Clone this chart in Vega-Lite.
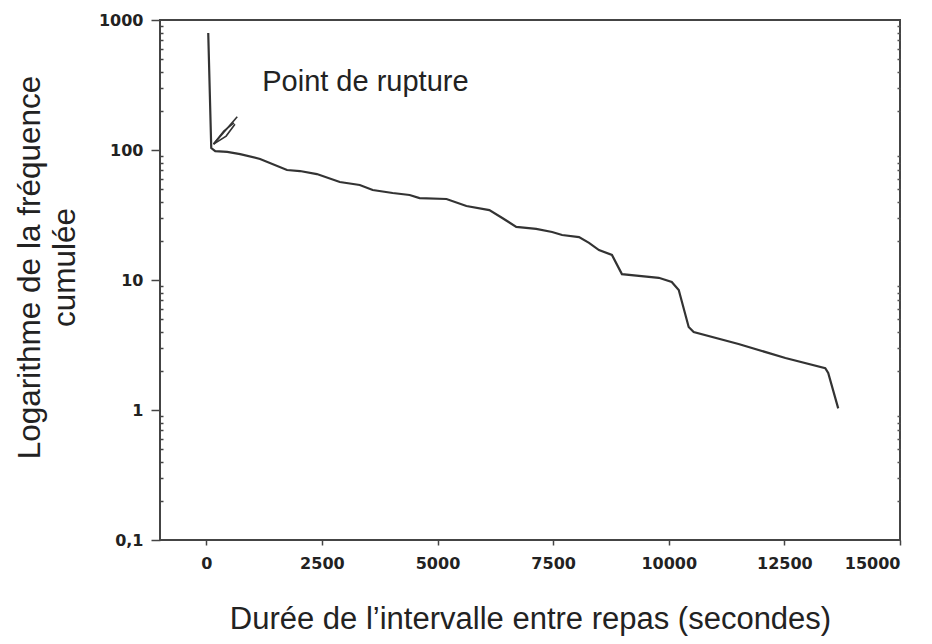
{
  "$schema": "https://vega.github.io/schema/vega-lite/v6.json",
  "width": 740,
  "height": 520,
  "autosize": {"type": "none"},
  "padding": {"left": 160, "top": 20, "right": 32, "bottom": 104},
  "background": "white",
  "config": {
    "view": {"stroke": "#444", "strokeWidth": 2},
    "font": "Liberation Sans"
  },
  "resolve": {"axis": {"y": "independent"}},
  "layer": [
    {
      "data": {
        "values": [
          {"duree": 43, "freq": 794},
          {"duree": 108, "freq": 103.5},
          {"duree": 194, "freq": 98},
          {"duree": 453, "freq": 96.6},
          {"duree": 733, "freq": 93},
          {"duree": 1164, "freq": 85.3},
          {"duree": 1746, "freq": 70.2},
          {"duree": 2026, "freq": 68.9},
          {"duree": 2392, "freq": 65.3},
          {"duree": 2888, "freq": 56.7},
          {"duree": 3319, "freq": 53.8},
          {"duree": 3599, "freq": 49.2},
          {"duree": 4030, "freq": 46.7},
          {"duree": 4397, "freq": 45.1},
          {"duree": 4612, "freq": 42.7},
          {"duree": 5194, "freq": 42},
          {"duree": 5625, "freq": 37.1},
          {"duree": 6121, "freq": 34.5},
          {"duree": 6401, "freq": 30},
          {"duree": 6703, "freq": 25.6},
          {"duree": 7134, "freq": 24.7},
          {"duree": 7478, "freq": 23.4},
          {"duree": 7694, "freq": 22.2},
          {"duree": 8060, "freq": 21.4},
          {"duree": 8276, "freq": 19.3},
          {"duree": 8491, "freq": 17},
          {"duree": 8772, "freq": 15.6},
          {"duree": 8987, "freq": 11.1},
          {"duree": 9784, "freq": 10.4},
          {"duree": 10065, "freq": 9.66},
          {"duree": 10216, "freq": 8.38},
          {"duree": 10431, "freq": 4.35},
          {"duree": 10539, "freq": 3.98},
          {"duree": 11509, "freq": 3.22},
          {"duree": 12522, "freq": 2.51},
          {"duree": 13384, "freq": 2.1},
          {"duree": 13448, "freq": 1.93},
          {"duree": 13664, "freq": 1.03}
        ]
      },
      "mark": {"type": "line", "color": "#333", "strokeWidth": 2.2},
      "encoding": {
        "x": {
          "field": "duree",
          "type": "quantitative",
          "scale": {"domain": [-1000, 15000], "nice": false, "zero": false},
          "axis": {
            "values": [0, 2500, 5000, 7500, 10000, 12500, 15000],
            "format": "d",
            "grid": false,
            "domain": false,
            "tickColor": "#444",
            "tickWidth": 1.5,
            "tickSize": 5,
            "labelPadding": 10,
            "labelFont": "DejaVu Sans",
            "labelFontWeight": "bold",
            "labelFontSize": 16,
            "labelColor": "#222",
            "title": "Durée de l’intervalle  entre repas (secondes)",
            "titleFont": "Liberation Sans",
            "titleFontSize": 31,
            "titleFontWeight": "normal",
            "titleColor": "#222",
            "titlePadding": 33
          }
        },
        "y": {
          "field": "freq",
          "type": "quantitative",
          "scale": {"type": "log", "domain": [0.1, 1000], "nice": false},
          "axis": {
            "orient": "left",
            "values": [0.1, 0.2, 0.3, 0.4, 0.5, 0.6, 0.7, 0.8, 0.9, 1, 2, 3, 4, 5, 6, 7, 8, 9, 10, 20, 30, 40, 50, 60, 70, 80, 90, 100, 200, 300, 400, 500, 600, 700, 800, 900, 1000],
            "labelExpr": "datum.value == 0.1 ? '0,1' : ((datum.value == 1 || datum.value == 10 || datum.value == 100 || datum.value == 1000) ? ('' + datum.value) : '')",
            "grid": false,
            "domain": false,
            "tickColor": "#444",
            "tickWidth": 1.5,
            "tickSize": {"condition": {"test": "datum.value == 0.1 || datum.value == 1 || datum.value == 10 || datum.value == 100 || datum.value == 1000", "value": 9}, "value": -3},
            "labelPadding": 8,
            "labelFont": "DejaVu Sans",
            "labelFontWeight": "bold",
            "labelFontSize": 16,
            "labelColor": "#222",
            "title": ["Logarithme de la fréquence", "cumulée"],
            "titleFont": "Liberation Sans",
            "titleFontSize": 31.5,
            "titleFontWeight": "normal",
            "titleColor": "#222",
            "titleAngle": -90,
            "titleAlign": "center",
            "titleBaseline": "middle",
            "titleLineHeight": 35,
            "titleX": -130,
            "titleY": 247
          }
        }
      }
    },
    {
      "data": {
        "values": [
          {"x": 158, "y": 111, "seg": "a"},
          {"x": 670, "y": 180, "seg": "a"},
          {"x": 158, "y": 111, "seg": "b"},
          {"x": 380, "y": 140, "seg": "b"},
          {"x": 600, "y": 162, "seg": "b"},
          {"x": 158, "y": 111, "seg": "c"},
          {"x": 430, "y": 128, "seg": "c"},
          {"x": 620, "y": 158, "seg": "c"}
        ]
      },
      "mark": {"type": "line", "color": "#333", "strokeWidth": 1.6},
      "encoding": {
        "x": {"field": "x", "type": "quantitative"},
        "y": {
          "field": "y",
          "type": "quantitative",
          "axis": {
            "orient": "right",
            "values": [0.2, 0.3, 0.4, 0.5, 0.6, 0.7, 0.8, 0.9, 2, 3, 4, 5, 6, 7, 8, 9, 20, 30, 40, 50, 60, 70, 80, 90, 200, 300, 400, 500, 600, 700, 800, 900],
            "labels": false,
            "grid": false,
            "domain": false,
            "title": null,
            "tickColor": "#555",
            "tickWidth": 1.5,
            "tickSize": -3
          }
        },
        "detail": {"field": "seg"}
      }
    },
    {
      "data": {"values": [{"x": 1210, "y": 333, "label": "Point de rupture"}]},
      "mark": {"type": "text", "align": "left", "baseline": "middle", "font": "Liberation Sans", "fontSize": 29, "color": "#222"},
      "encoding": {
        "x": {"field": "x", "type": "quantitative"},
        "y": {"field": "y", "type": "quantitative", "axis": null},
        "text": {"field": "label"}
      }
    }
  ]
}
